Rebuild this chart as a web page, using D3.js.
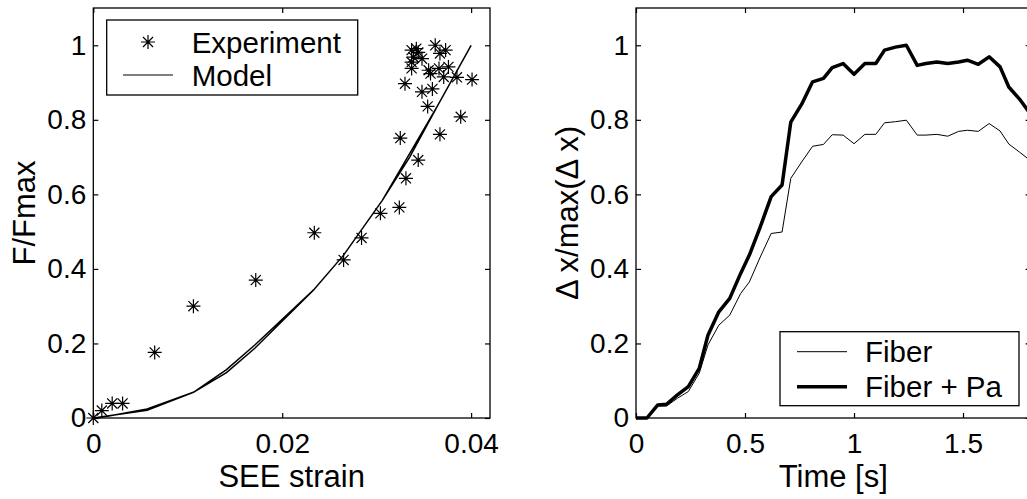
<html>
<head>
  <title>SEE strain and displacement</title>
  <script src="https://d3js.org/d3.v7.min.js"></script>
  <style>
    body { margin: 0; background: #fff; }
    text { font-family: "Liberation Sans", Arial, sans-serif; fill: #000; }
  </style>
</head>
<body>
<script>

// left plot: experiment points (SEE strain, F/Fmax)
var expStrain = [0, 0.0009, 0.0020, 0.0031, 0.0065, 0.0106, 0.0172, 0.0234, 0.0265, 0.0284,
                 0.0304, 0.0324, 0.0331, 0.0344, 0.0325, 0.0367, 0.0389, 0.0354, 0.0348, 0.0359,
                 0.0330, 0.0385, 0.0401, 0.0371, 0.0357, 0.0355, 0.0366, 0.0376, 0.0337, 0.0337,
                 0.0348, 0.0337, 0.0342, 0.0344, 0.0362, 0.0373, 0.0367, 0.0339];
var expForce  = [0, 0.020, 0.039, 0.039, 0.176, 0.300, 0.370, 0.497, 0.424, 0.483,
                 0.549, 0.565, 0.643, 0.692, 0.751, 0.761, 0.808, 0.836, 0.875, 0.883,
                 0.897, 0.914, 0.908, 0.915, 0.924, 0.933, 0.938, 0.942, 0.938, 0.955,
                 0.964, 0.987, 0.991, 0.981, 1.000, 0.987, 0.978, 0.968];

// model curve (drawn out and back, the two runs almost overlap)
var modelStrain = [0, 0.0057, 0.0106, 0.0141, 0.0171, 0.0233, 0.0265, 0.0306, 0.0335, 0.0365, 0.040,
                   0.0365, 0.0306, 0.0265, 0.0233, 0.0171, 0.0141, 0.0106, 0.0057, 0.0015, 0];
var modelForce  = [0, 0.021, 0.069, 0.122, 0.187, 0.343, 0.437, 0.584, 0.700, 0.840, 1.0,
                   0.840, 0.584, 0.437, 0.343, 0.196, 0.130, 0.069, 0.024, 0.005, 0];

// right plot: time and normalised displacement
var time = [0, 0.05, 0.10, 0.14, 0.19, 0.24, 0.29, 0.33, 0.38, 0.43,
            0.48, 0.52, 0.57, 0.62, 0.67, 0.71, 0.76, 0.81, 0.86, 0.90,
            0.95, 1.00, 1.05, 1.10, 1.14, 1.19, 1.24, 1.29, 1.33, 1.38,
            1.43, 1.48, 1.52, 1.57, 1.62, 1.67, 1.71, 1.76, 1.81];
var fiber = [0, 0, 0.032, 0.032, 0.053, 0.071, 0.120, 0.196, 0.249, 0.276,
             0.334, 0.365, 0.432, 0.495, 0.499, 0.643, 0.687, 0.729, 0.734, 0.760,
             0.759, 0.736, 0.761, 0.761, 0.792, 0.795, 0.799, 0.759, 0.759, 0.761,
             0.756, 0.769, 0.772, 0.769, 0.790, 0.770, 0.735, 0.713, 0.690];
var fiberPa = [0, 0, 0.035, 0.037, 0.062, 0.084, 0.133, 0.222, 0.285, 0.321,
               0.388, 0.437, 0.513, 0.594, 0.625, 0.794, 0.842, 0.902, 0.911, 0.940,
               0.951, 0.922, 0.951, 0.951, 0.987, 0.995, 1.000, 0.946, 0.951, 0.955,
               0.951, 0.955, 0.960, 0.949, 0.969, 0.942, 0.888, 0.855, 0.815];

var leftXTicks = [0, 0.02, 0.04];
var rightXTicks = [0, 0.5, 1, 1.5];
var yTicks = [0, 0.2, 0.4, 0.6, 0.8, 1];

var width = 1027, height = 499;
var tickFont = 28, labelFont = 31, legendFont = 29.5;

var svg = d3.select("body").append("svg")
    .attr("width", width)
    .attr("height", height);

// draws a MATLAB style box with inward ticks on all four sides
function drawFrame(g, x, y, xt, yt, xlabel, ylabel, ylabelX) {
  var x0 = x.range()[0], x1 = x.range()[1];
  var y0 = y.range()[0], y1 = y.range()[1];

  var fmt = function(d) { return String(d); };

  var bottom = g.append("g").attr("transform", "translate(0," + y0 + ")")
    .call(d3.axisBottom(x).tickValues(xt).tickFormat(fmt).tickSizeInner(-5).tickSizeOuter(0).tickPadding(15));
  var top = g.append("g").attr("transform", "translate(0," + y1 + ")")
    .call(d3.axisTop(x).tickValues(xt).tickFormat("").tickSizeInner(-5).tickSizeOuter(0));
  var left = g.append("g").attr("transform", "translate(" + x0 + ",0)")
    .call(d3.axisLeft(y).tickValues(yt).tickFormat(fmt).tickSizeInner(-5).tickSizeOuter(0).tickPadding(7));
  var right = g.append("g").attr("transform", "translate(" + x1 + ",0)")
    .call(d3.axisRight(y).tickValues(yt).tickFormat("").tickSizeInner(-5).tickSizeOuter(0));

  [bottom, top, left, right].forEach(function(a) {
    a.select(".domain").remove();
    a.selectAll(".tick line").attr("stroke", "#000").attr("stroke-width", 1.2);
    a.selectAll("text").attr("font-size", tickFont)
      .attr("font-family", "Liberation Sans, Arial, sans-serif").attr("fill", "#000");
  });

  g.append("rect")
    .attr("x", x0).attr("y", y1)
    .attr("width", x1 - x0).attr("height", y0 - y1)
    .attr("fill", "none").attr("stroke", "#000").attr("stroke-width", 1.3);

  g.append("text")
    .attr("x", (x0 + x1) / 2).attr("y", 487)
    .attr("text-anchor", "middle").attr("font-size", labelFont)
    .text(xlabel);

  g.append("text")
    .attr("transform", "translate(" + ylabelX + "," + (y0 + y1) / 2 + ") rotate(-90)")
    .attr("text-anchor", "middle").attr("font-size", labelFont)
    .text(ylabel);
}

// asterisk marker: a plus and a cross
function star(sel, r) {
  var d = r * 0.72;
  sel.append("path")
    .attr("d", "M" + (-r) + ",0L" + r + ",0M0," + (-r) + "L0," + r +
               "M" + (-d) + "," + (-d) + "L" + d + "," + d +
               "M" + (-d) + "," + d + "L" + d + "," + (-d))
    .attr("stroke", "#000").attr("stroke-width", 1.2).attr("fill", "none");
}

// ---------- left plot ----------
var xL = d3.scaleLinear().domain([0, 0.042]).range([93.3, 490]);
var yL = d3.scaleLinear().domain([0, 1.1]).range([418, 8]);
var gL = svg.append("g");

var modelLine = d3.line()
  .x(function(d, i) { return xL(modelStrain[i]); })
  .y(function(d, i) { return yL(modelForce[i]); });

gL.append("path")
  .datum(modelStrain)
  .attr("d", modelLine)
  .attr("fill", "none").attr("stroke", "#000").attr("stroke-width", 1.5);

gL.selectAll("g.pt")
  .data(expStrain)
  .enter()
  .append("g").attr("class", "pt")
  .attr("transform", function(d, i) { return "translate(" + xL(d) + "," + yL(expForce[i]) + ")"; })
  .each(function() { star(d3.select(this), 7); });

drawFrame(gL, xL, yL, leftXTicks, yTicks, "SEE strain", "F/Fmax", 35);

// legend left
var legL = gL.append("g");
legL.append("rect").attr("x", 106.7).attr("y", 20).attr("width", 251).attr("height", 75)
  .attr("fill", "#fff").attr("stroke", "#000").attr("stroke-width", 1.3);
star(legL.append("g").attr("transform", "translate(148,42)"), 7);
legL.append("line").attr("x1", 123).attr("x2", 173).attr("y1", 75).attr("y2", 75)
  .attr("stroke", "#000").attr("stroke-width", 1.2);
legL.append("text").attr("x", 191.7).attr("y", 42).attr("dy", "0.36em").attr("font-size", legendFont).text("Experiment");
legL.append("text").attr("x", 191.7).attr("y", 75).attr("dy", "0.36em").attr("font-size", legendFont).text("Model");

// ---------- right plot ----------
var xR = d3.scaleLinear().domain([0, 1.81]).range([636, 1030.6]);
var yR = d3.scaleLinear().domain([0, 1.1]).range([418, 8]);
var gR = svg.append("g");

var lineThin = d3.line()
  .x(function(d, i) { return xR(time[i]); })
  .y(function(d) { return yR(d); });

gR.append("path").datum(fiber).attr("d", lineThin)
  .attr("fill", "none").attr("stroke", "#000").attr("stroke-width", 1);
gR.append("path").datum(fiberPa).attr("d", lineThin)
  .attr("fill", "none").attr("stroke", "#000").attr("stroke-width", 3.5)
  .attr("stroke-linejoin", "round");

drawFrame(gR, xR, yR, rightXTicks, yTicks, "Time [s]", "\u0394 x/max(\u0394 x)", 578);

// legend right
var legR = gR.append("g");
legR.append("rect").attr("x", 780).attr("y", 331.7).attr("width", 239).attr("height", 74)
  .attr("fill", "#fff").attr("stroke", "#000").attr("stroke-width", 1.3);
legR.append("line").attr("x1", 797).attr("x2", 847).attr("y1", 351.7).attr("y2", 351.7)
  .attr("stroke", "#000").attr("stroke-width", 1);
legR.append("line").attr("x1", 797).attr("x2", 847).attr("y1", 386.7).attr("y2", 386.7)
  .attr("stroke", "#000").attr("stroke-width", 3.5);
legR.append("text").attr("x", 865).attr("y", 351.7).attr("dy", "0.36em").attr("font-size", legendFont).text("Fiber");
legR.append("text").attr("x", 865).attr("y", 386.7).attr("dy", "0.36em").attr("font-size", legendFont).text("Fiber + Pa");

</script>
</body>
</html>
